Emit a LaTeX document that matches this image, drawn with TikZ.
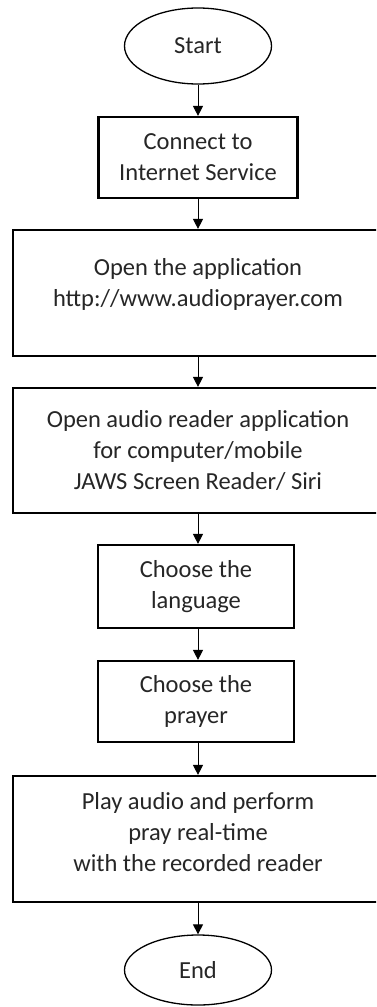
\documentclass[tikz,border=0pt]{standalone}
\usepackage{fontspec}
\setmainfont{Carlito}
\usetikzlibrary{shapes.geometric, arrows.meta}

\begin{document}
\begin{tikzpicture}[x=1pt, y=-1pt, every node/.style={font=\fontsize{24.5}{31}\selectfont, text=black!85}]
  \tikzstyle{term}=[draw, ellipse, line width=1.3pt, minimum width=147pt, minimum height=76pt, inner sep=0pt]
  \tikzstyle{box}=[draw, rectangle, line width=2.2pt, align=center, inner sep=0pt]
  \tikzstyle{arr}=[line width=1pt, -{Triangle[width=10pt, length=10pt]}]
  \useasboundingbox (0,0) rectangle (376,1007);
  \clip (0,0) rectangle (376,1007);
  \node[term] (start) at (198, 46) {Start};
  \node[box, minimum width=199pt, minimum height=81pt] (connect) at (198, 157.5) {Connect to\\Internet Service};
  \node[box, minimum width=370pt, minimum height=126pt, text depth=22pt] (openapp) at (198, 293) {Open the application\\http://www.audioprayer.com};
  \node[box, minimum width=370pt, minimum height=125pt] (reader) at (198, 450.5) {Open audio reader application\\for computer/mobile\\ JAWS Screen Reader/ Siri};
  \node[box, minimum width=196pt, minimum height=83pt] (lang) at (196, 586.5) {Choose the\\language};
  \node[box, minimum width=196pt, minimum height=81pt] (prayer) at (196, 701.5) {Choose the\\prayer};
  \node[box, minimum width=370pt, minimum height=126pt, text depth=14pt] (play) at (198, 839) {Play audio and perform\\pray real-time\\with the recorded reader};
  \node[term, minimum height=70pt] (stop) at (198, 970) {End};
  \draw[arr] (start) -- (connect);
  \draw[arr] (connect) -- (openapp);
  \draw[arr] (openapp) -- (reader);
  \draw[arr] (reader) -- (reader |- lang.north);
  \draw[arr] (lang.south -| reader) -- (prayer.north -| reader);
  \draw[arr] (prayer.south -| reader) -- (play);
  \draw[arr] (play) -- (stop);
\end{tikzpicture}
\end{document}
